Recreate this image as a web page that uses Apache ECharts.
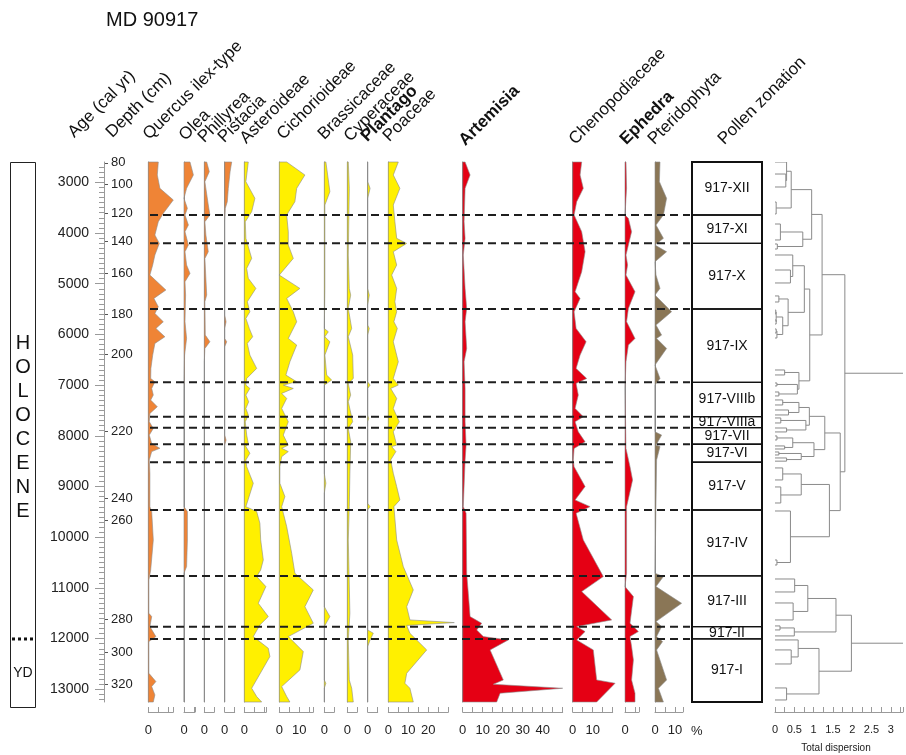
<!DOCTYPE html>
<html>
<head>
<meta charset="utf-8">
<title>MD 90917 pollen diagram</title>
<script src="https://cdn.jsdelivr.net/npm/echarts@6/dist/echarts.min.js"></script>
<style>
  html, body { margin: 0; padding: 0; background: #fff; }
  #chart { width: 906px; height: 755px; }
</style>
</head>
<body>
<div id="chart"></div>
<script>
// ---------------------------------------------------------------------------
// Core MD 90917 – pollen percentages against calibrated age (cal yr BP)
// ---------------------------------------------------------------------------
const AGE_MIN = 2600;
const AGE_MAX = 13250;

// age axis and the depth scale tied to it by the age model
const ageTicks = [3000, 4000, 5000, 6000, 7000, 8000, 9000, 10000, 11000, 12000, 13000];
const depthLabels = [80, 100, 120, 140, 160, 180, 200, 220, 240, 260, 280, 300, 320];
const depthAges = [2615, 3034, 3606, 4158, 4799, 5597, 6386, 7905, 9227, 9660, 11612, 12263, 12894];

// taxa: [age, percent]
const quercus = [[2600,5.0],[2856,4.5],[3120,5.8],[3349,12.5],[3613,7.5],[3778,5.0],[4040,3.3],[4205,5.5],[4435,3.3],[4632,2.2],[4830,0.8],[5125,8.8],[5290,2.8],[5455,5.0],[5586,3.3],[5751,7.5],[5882,3.8],[6047,8.3],[6178,3.3],[6408,2.2],[6671,1.3],[6869,1.2],[6934,3.3],[7066,1.7],[7197,2.5],[7296,1.2],[7427,4.5],[7559,0.8],[7723,0.5],[7855,2.5],[7986,0.5],[8151,1.7],[8246,5.8],[8312,1.7],[8476,0.5],[8739,0.8],[9397,0.8],[9495,1.7],[10054,2.5],[10645,1.2],[10843,0.3],[11500,0.3],[11566,1.7],[11763,0.8],[11960,3.8],[12059,0.3],[12683,0.3],[12847,3.8],[12946,1.7],[13110,3.3],[13250,2.5]];
const olea = [[2600,3.0],[2856,4.7],[3120,1.3],[3317,0],[3514,1.7],[3645,0.5],[3843,2.2],[3975,0.5],[4238,2.2],[4370,0.5],[4632,1.3],[4797,3.0],[4961,0.5],[5224,0.8],[5751,0.5],[6080,1.3],[6408,0.3],[7066,0],[9397,0],[9495,1.7],[10054,1.7],[10580,1.3],[10711,0],[13250,0]];
const phillyrea = [[2600,1.2],[2790,2.5],[2988,0.3],[3448,2.0],[3645,2.8],[3778,0.3],[4040,0.8],[4370,2.0],[4501,0.3],[5224,1.2],[5356,0.3],[6014,0.5],[6145,2.8],[6277,0.3],[6540,0],[13250,0]];
const pistacia = [[2600,3.5],[2790,2.7],[3120,1.8],[3383,1.3],[3514,0.3],[3778,0],[5620,0],[5751,0.7],[5882,0],[6080,0],[6145,1.0],[6244,0],[7986,0],[8085,0.7],[8184,0],[13250,0]];
const asteroideae = [[2600,2.0],[2988,0.8],[3317,5.3],[3580,3.7],[3778,0.5],[4106,0.8],[4501,3.7],[4698,1.2],[4895,2.0],[5093,5.8],[5356,1.5],[5553,2.8],[5685,0.8],[5882,2.5],[6047,4.2],[6178,1.5],[6408,2.8],[6671,6.2],[6869,1.2],[7000,0.8],[7066,2.8],[7197,0.8],[7329,2.2],[7460,0.8],[7592,2.0],[7723,0.5],[7986,1.2],[8150,2.0],[8213,0.8],[8345,2.8],[8476,0.8],[8608,1.2],[8936,4.5],[9397,0.8],[9495,6.2],[9725,7.8],[10054,8.2],[10448,9.5],[10645,8.2],[10777,6.2],[10974,10.8],[11303,7.0],[11566,12.0],[11730,7.8],[11960,4.5],[12190,12.0],[12354,12.8],[12979,3.7],[13143,6.2],[13250,8.7]];
const cichorioideae = [[2600,3.7],[2856,12.8],[3120,8.7],[3383,7.8],[3645,3.7],[3975,4.5],[4238,4.5],[4501,7.0],[4830,0],[5093,10.3],[5290,3.7],[5553,7.0],[5751,8.7],[6080,4.5],[6211,8.7],[6540,5.3],[6803,3.3],[6934,8.7],[7000,2.0],[7066,7.0],[7164,1.2],[7263,3.7],[7460,1.2],[7723,4.5],[7986,2.0],[8184,4.5],[8246,1.2],[8312,4.5],[8411,1.2],[8608,0.3],[8936,0.3],[9199,2.8],[9397,1.2],[9791,3.7],[10317,6.2],[10711,7.8],[11040,17.0],[11369,12.8],[11697,17.0],[11960,4.5],[12256,12.0],[12617,10.3],[12946,1.2],[13143,3.7],[13250,5.3]];
const brassicaceae = [[2600,0.8],[3185,2.8],[3448,0.3],[5093,0.3],[5882,0],[5948,2.0],[6047,0.3],[6145,2.8],[6408,0.3],[6803,1.2],[6901,3.7],[7000,0],[8739,0],[8936,0.8],[9134,0],[11369,0],[11566,2.8],[11763,0],[12815,0],[12880,0.8],[12979,0],[13250,0]];
const cyperaceae = [[2600,0.5],[3120,1.0],[4435,0.5],[5093,1.0],[5224,1.7],[5487,0.5],[5882,2.2],[6047,0.5],[6408,2.7],[6869,3.0],[6967,0.5],[7197,1.7],[7329,0.5],[7723,2.7],[7855,0.5],[8118,1.7],[8739,1.3],[9397,1.0],[10054,0.5],[11500,1.3],[12026,0.5],[12815,1.0],[12979,2.2],[13250,3.0]];
const plantago = [[2600,0],[2988,0],[3120,1.2],[3317,0],[5093,0],[5224,0.8],[5421,0],[5816,0],[5882,0.8],[6014,0],[6934,0],[7000,1.2],[7066,0],[7592,0],[7657,0.5],[7723,0],[9331,0],[9397,1.2],[9462,0],[11829,0],[11894,2.8],[12026,1.2],[12157,0],[13250,0]];
const poaceae = [[2600,5.0],[2856,2.5],[3120,5.8],[3448,2.5],[3778,3.3],[4106,4.2],[4205,9.2],[4370,2.5],[4632,4.2],[4830,1.7],[5093,4.2],[5356,3.3],[5553,4.2],[5751,2.8],[5882,4.5],[6145,2.5],[6540,5.0],[6869,2.5],[7000,5.0],[7066,1.2],[7263,4.2],[7460,2.5],[7723,5.5],[7921,2.5],[8184,4.2],[8213,1.7],[8312,3.8],[8476,1.2],[8739,2.5],[9002,4.2],[9265,5.8],[9397,2.8],[10054,4.2],[10580,7.5],[11040,12.5],[11369,9.2],[11631,10.8],[11684,33],[11740,9.2],[11894,10.8],[12223,19.2],[12683,9.2],[12880,8.3],[12979,10.8],[13250,12.5]];
const artemisia = [[2600,1.2],[2856,3.7],[3120,1.2],[3778,0.7],[4106,1.2],[4435,0.3],[5093,1.2],[5487,2.0],[5751,1.2],[6277,2.0],[6540,0.7],[7066,1.2],[7723,1.2],[8184,1.7],[8476,1.2],[9397,0.3],[9528,1.7],[10711,2.0],[11106,2.8],[11566,3.7],[11697,9.5],[11829,7.0],[11960,10.3],[12026,22.8],[12223,13.7],[12815,20.3],[12900,15.3],[12979,50],[13077,18.7],[13250,17]];
const chenopodiaceae = [[2600,4.5],[2856,3.7],[3120,5.3],[3383,2.0],[3645,0.7],[3975,4.5],[4370,6.2],[4764,4.5],[5159,1.2],[5290,3.7],[5553,0.7],[5882,1.7],[6145,6.7],[6408,3.7],[6671,1.7],[6869,7.0],[6967,1.7],[7197,2.8],[7460,1.2],[7625,5.3],[7723,1.2],[7921,2.8],[8118,6.2],[8250,0.7],[8476,0.3],[8608,0.7],[9002,6.2],[9265,1.2],[9397,8.7],[9528,1.7],[10054,5.3],[10777,15.3],[11073,4.5],[11631,19.5],[11763,2.0],[11861,6.2],[12026,2.0],[12223,10.3],[12815,12.0],[12880,21.2],[13250,12.0]];
const ephedra = [[2600,0.5],[3120,0.8],[3645,0],[3711,1.7],[3975,3.3],[4238,1.7],[4435,0.5],[4632,1.3],[4830,0.5],[5159,5.0],[5487,1.7],[5751,0.8],[5882,2.5],[6080,5.0],[6211,1.7],[6540,0.5],[7066,0],[8250,0.5],[8608,2.5],[8871,3.8],[9397,0.8],[10711,0.8],[10974,0],[11171,4.2],[11697,2.5],[11861,6.7],[11960,2.5],[12157,3.3],[12420,4.2],[12815,3.3],[13077,5.0],[13250,5.0]];
const pteridophyta = [[2600,2.5],[2988,2.2],[3317,5.8],[3645,4.2],[3843,0.5],[4106,4.2],[4238,0],[4370,5.8],[4567,0],[4830,0.5],[5093,2.5],[5224,0],[5553,8.3],[5816,0.5],[6014,3.3],[6080,0.8],[6277,5.8],[6605,0],[6869,2.5],[7000,0],[7921,0],[7986,3.3],[8184,0.5],[8213,2.5],[8476,0.8],[10711,0],[10777,4.2],[10974,0.5],[11303,13.3],[11664,0.5],[11763,3.3],[11960,0.8],[12059,3.8],[12223,0.8],[12815,5.8],[12979,1.7],[13250,4.2]];

// pollen zones (top of each zone, then base of the record)
const zoneNames = ['917-XII','917-XI','917-X','917-IX','917-VIIIb','917-VIIIa','917-VII','917-VI','917-V','917-IV','917-III','917-II','917-I'];
const zoneBounds = [2600, 3645, 4203, 5499, 6945, 7623, 7840, 8167, 8522, 9463, 10764, 11764, 12007, 13250];
const HOLOCENE_BASE_AGE = 12007;

// CONISS clustering: node = [total dispersion, childA, childB], leaf = sample age
const clusterA1a = [0.95, [0.42, [0.30, 2600, [0.28, 2837, 3093]], [0.03, 3389, 3625]], [0.72, [0.14, 3823, 4138], [0.06, 4217, 4316]]];
const clusterA1b = [0.90, [0.76, [0.46, 4434, [0.40, 4730, 4986]], [0.34, [0.10, 5242, 5361], [0.20, [0.03, [0.02, 5519, 5597], [0.03, 5716, 5795]], [0.05, [0.03, 5893, 5972], 6071]]]], [0.62, [0.25, 6702, 6800], [0.58, [0.05, 6958, 7017], [0.10, 7136, 7214]]]];
const clusterA2a = [1.29, [0.89, [0.62, [0.2, 7293, 7392], [0.35, 7491, 7589]], [0.8, [0.15, 7648, 7747], [0.3, 7846, 7924]]], [1.01, [0.46, [0.05, 8003, 8082], [0.25, 8200, 8260]], [0.68, [0.1, 8319, 8378], [0.3, 8437, 8500]]]];
const clusterA2b = [1.41, [0.68, [0.2, 8634, 8871], [0.15, 9009, 9325]], [0.40, 9483, [0.05, 10449, 10548]]];
const clusterB1 = [1.58, [0.85, [0.51, 10824, 11080], [0.47, 11297, 11632]], [0.5, [0.13, 11750, 11829], 11947]];
const clusterB2 = [1.14, [0.6, 12026, [0.42, 12223, 12500]], [0.3, 12973, 13210]];
const clusterTree = [3.6, [1.81, [1.22, clusterA1a, clusterA1b], [1.69, clusterA2a, clusterA2b]], [1.98, clusterB1, clusterB2]];
const dispersionTicks = [0, 0.5, 1, 1.5, 2, 2.5, 3];

// ---------------------------------------------------------------------------
// layout and styling
// ---------------------------------------------------------------------------
const FONT = "'Liberation Sans', Arial, Helvetica, sans-serif";
const PLOT_TOP = 162;
const PLOT_H = 540;
const PX_PER_PCT = 2;
const ORANGE = '#EF8436';
const YELLOW = '#FFF000';
const RED = '#E50014';
const BROWN = '#8A7656';
const OUTLINE = '#8c8c8c';
const AXIS_GREY = '#9a9a9a';

// the dashed line at the base of zone 917-VI stops short of the last two columns
const SHORT_BOUNDARY_AGE = 8522;
const SHORT_BOUNDARY_END_X = 613;

const panels = [
  { name: 'Quercus ilex-type', data: quercus, left: 148.3, max: 12.5, color: ORANGE, labels: [0] },
  { name: 'Olea', data: olea, left: 184, max: 5.5, color: ORANGE, labels: [0] },
  { name: 'Phillyrea', data: phillyrea, left: 204.3, max: 5, color: ORANGE, labels: [0] },
  { name: 'Pistacia', data: pistacia, left: 224.7, max: 5, color: ORANGE, labels: [0] },
  { name: 'Asteroideae', data: asteroideae, left: 244.3, max: 11, color: YELLOW, labels: [0] },
  { name: 'Cichorioideae', data: cichorioideae, left: 279.3, max: 17, color: YELLOW, labels: [0, 10] },
  { name: 'Brassicaceae', data: brassicaceae, left: 324.3, max: 5, color: YELLOW, labels: [0] },
  { name: 'Cyperaceae', data: cyperaceae, left: 347.3, max: 5, color: YELLOW, labels: [0] },
  { name: 'Plantago', data: plantago, left: 367.7, max: 5, color: YELLOW, labels: [0] },
  { name: 'Poaceae', data: poaceae, left: 388.3, max: 30, color: YELLOW, labels: [0, 10, 20] },
  { name: 'Artemisia', data: artemisia, left: 462.7, max: 50, color: RED, labels: [0, 10, 20, 30, 40] },
  { name: 'Chenopodiaceae', data: chenopodiaceae, left: 572.7, max: 20, color: RED, labels: [0, 10] },
  { name: 'Ephedra', data: ephedra, left: 625, max: 7, color: RED, labels: [0] },
  { name: 'Pteridophyta', data: pteridophyta, left: 655, max: 14, color: BROWN, labels: [0, 10] }
];

// rotated column headings: text, anchor x, anchor y, bold
const headings = [
  ['Age (cal yr)', 77, 141, false],
  ['Depth (cm)', 115, 141, false],
  ['Quercus ilex-type', 152, 143, false],
  ['Olea', 188, 144, false],
  ['Phillyrea', 207, 146, false],
  ['Pistacia', 227, 146, false],
  ['Asteroideae', 249, 147, false],
  ['Cichorioideae', 286, 143, false],
  ['Brassicaceae', 327, 143, false],
  ['Cyperaceae', 353, 145, false],
  ['Plantago', 370, 145, true],
  ['Poaceae', 392, 145, false],
  ['Artemisia', 468, 149, true],
  ['Chenopodiaceae', 578, 148, false],
  ['Ephedra', 629, 148, true],
  ['Pteridophyta', 657, 148, false],
  ['Pollen zonation', 727, 148, false]
];

// ---------------------------------------------------------------------------
const chart = echarts.init(document.getElementById('chart'));
const grid = [], xAxis = [], yAxis = [], series = [];

function hiddenAxis(extra) {
  return Object.assign({
    type: 'value', show: false,
    axisLine: { show: false }, axisTick: { show: false },
    axisLabel: { show: false }, splitLine: { show: false }
  }, extra);
}
function ageAxis(gridIndex, extra) {
  return Object.assign(hiddenAxis({ gridIndex, min: AGE_MIN, max: AGE_MAX, inverse: true }), extra || {});
}

// filled silhouette of one taxon curve, closed back onto the zero line
function areaRenderer(points, color) {
  return function (params, api) {
    if (params.dataIndex !== 0) return null;
    const poly = [api.coord([0, points[0][0]])];
    points.forEach(function (p) { poly.push(api.coord([p[1], p[0]])); });
    poly.push(api.coord([0, points[points.length - 1][0]]));
    return {
      type: 'polygon',
      shape: { points: poly },
      style: { fill: color, stroke: OUTLINE, lineWidth: 0.6 }
    };
  };
}

panels.forEach(function (p) {
  const gi = grid.length;
  grid.push({ left: p.left, top: PLOT_TOP, width: p.max * PX_PER_PCT, height: PLOT_H });
  xAxis.push({
    gridIndex: gi, type: 'value', min: 0, max: p.max, interval: 5,
    position: 'bottom', offset: 10,
    axisLine: { show: true, onZero: false, lineStyle: { color: AXIS_GREY, width: 1 } },
    axisTick: { show: true, inside: true, length: 5, lineStyle: { color: AXIS_GREY } },
    axisLabel: {
      show: true, margin: 12, fontSize: 13, color: '#222', fontFamily: FONT,
      formatter: function (v) { return p.labels.indexOf(v) >= 0 ? String(v) : ''; }
    },
    splitLine: { show: false }
  });
  yAxis.push({
    gridIndex: gi, type: 'value', min: AGE_MIN, max: AGE_MAX, inverse: true, position: 'left',
    axisLine: { show: true, onZero: false, lineStyle: { color: OUTLINE, width: 1 } },
    axisTick: { show: false }, axisLabel: { show: false }, splitLine: { show: false }
  });
  series.push({
    type: 'custom', name: p.name, xAxisIndex: gi, yAxisIndex: gi,
    data: p.data.map(function (d) { return [d[1], d[0]]; }),
    renderItem: areaRenderer(p.data, p.color), silent: true, z: 2
  });
});

// age ruler with the depth scale beside it
const ageGrid = grid.length;
grid.push({ left: 104, top: PLOT_TOP, width: 1, height: PLOT_H });
xAxis.push(hiddenAxis({ gridIndex: ageGrid, min: 0, max: 1 }));
const ageAxisIndex = yAxis.length;
yAxis.push({
  gridIndex: ageGrid, type: 'value', min: AGE_MIN, max: AGE_MAX, inverse: true, position: 'left',
  axisLine: { show: true, onZero: false, lineStyle: { color: AXIS_GREY, width: 1 } },
  axisTick: { show: true, length: 9, customValues: ageTicks, lineStyle: { color: AXIS_GREY } },
  axisLabel: {
    show: true, margin: 15, fontSize: 14, color: '#222', fontFamily: FONT, customValues: ageTicks,
    formatter: function (v) { return String(v); }
  },
  splitLine: { show: false }
});
const minorAges = [];
for (let a = 2700; a <= 13200; a += 100) if (ageTicks.indexOf(a) < 0) minorAges.push(a);
yAxis.push({
  gridIndex: ageGrid, type: 'value', min: AGE_MIN, max: AGE_MAX, inverse: true, position: 'left',
  axisLine: { show: false },
  axisTick: { show: true, length: 5, customValues: minorAges, lineStyle: { color: AXIS_GREY } },
  axisLabel: { show: false }, splitLine: { show: false }
});
yAxis.push({
  gridIndex: ageGrid, type: 'value', min: AGE_MIN, max: AGE_MAX, inverse: true, position: 'right',
  axisLine: { show: false },
  axisTick: { show: true, length: 3, customValues: depthAges, lineStyle: { color: '#555' } },
  axisLabel: {
    show: true, margin: 6, fontSize: 13, color: '#222', fontFamily: FONT, customValues: depthAges,
    formatter: function (v) {
      const i = depthAges.indexOf(v);
      return i >= 0 ? String(depthLabels[i]) : '';
    }
  },
  splitLine: { show: false }
});
series.push({ type: 'line', xAxisIndex: ageGrid, yAxisIndex: ageAxisIndex, data: [], silent: true });

// zone boundaries drawn as dashed lines across the taxa
const DASH_LEFT = 150, DASH_WIDTH = 540;
const dashGrid = grid.length;
grid.push({ left: DASH_LEFT, top: PLOT_TOP, width: DASH_WIDTH, height: PLOT_H });
xAxis.push(hiddenAxis({ gridIndex: dashGrid, min: 0, max: 1 }));
yAxis.push(ageAxis(dashGrid));
series.push({
  type: 'custom', xAxisIndex: dashGrid, yAxisIndex: yAxis.length - 1, silent: true, z: 10,
  data: zoneBounds.slice(1, -1).map(function (a) { return [0, a]; }),
  renderItem: function (params, api) {
    const a = api.value(1);
    const end = a === SHORT_BOUNDARY_AGE ? (SHORT_BOUNDARY_END_X - DASH_LEFT) / DASH_WIDTH : 1;
    const p1 = api.coord([0, a]), p2 = api.coord([end, a]);
    return {
      type: 'line', shape: { x1: p1[0], y1: p1[1], x2: p2[0], y2: p2[1] },
      style: { stroke: '#1e1e1e', lineWidth: 2, lineDash: [8, 5] }
    };
  }
});

// pollen zonation column
const zoneGrid = grid.length;
grid.push({ left: 692, top: PLOT_TOP, width: 70, height: PLOT_H });
xAxis.push(hiddenAxis({ gridIndex: zoneGrid, min: 0, max: 1 }));
yAxis.push(ageAxis(zoneGrid));
series.push({
  type: 'custom', xAxisIndex: zoneGrid, yAxisIndex: yAxis.length - 1, silent: true, z: 5,
  data: zoneNames.map(function (n, i) { return [zoneBounds[i], zoneBounds[i + 1]]; }),
  renderItem: function (params, api) {
    const t = api.coord([0, api.value(0)]);
    const b = api.coord([1, api.value(1)]);
    const children = [
      { type: 'rect', shape: { x: t[0], y: t[1], width: b[0] - t[0], height: b[1] - t[1] },
        style: { fill: 'none', stroke: '#111', lineWidth: 1.3 } },
      { type: 'text', style: {
          text: zoneNames[params.dataIndex], x: (t[0] + b[0]) / 2, y: (t[1] + b[1]) / 2,
          align: 'center', verticalAlign: 'middle', textAlign: 'center', textVerticalAlign: 'middle',
          font: '14px ' + FONT, fill: '#111' } }
    ];
    if (params.dataIndex === 0) {
      const top = api.coord([0, AGE_MIN]), bot = api.coord([1, AGE_MAX]);
      children.push({ type: 'rect', shape: { x: top[0], y: top[1], width: bot[0] - top[0], height: bot[1] - top[1] },
        style: { fill: 'none', stroke: '#111', lineWidth: 2 } });
    }
    return { type: 'group', children: children };
  }
});

// CONISS dendrogram
const dendroSegments = [];
function layoutNode(node) {
  if (typeof node === 'number') return { pos: node, h: 0 };
  const h = node[0], a = layoutNode(node[1]), b = layoutNode(node[2]);
  dendroSegments.push([a.h, a.pos, h, a.pos]);
  dendroSegments.push([b.h, b.pos, h, b.pos]);
  dendroSegments.push([h, a.pos, h, b.pos]);
  return { pos: (a.pos + b.pos) / 2, h: h };
}
layoutNode(clusterTree);
const DENDRO_PX_PER_UNIT = 39.5;
const dendroGrid = grid.length;
grid.push({ left: 775, top: PLOT_TOP, width: 131, height: PLOT_H });
xAxis.push({
  gridIndex: dendroGrid, type: 'value', min: 0, max: 131 / DENDRO_PX_PER_UNIT, interval: 0.25,
  position: 'bottom', offset: 10,
  axisLine: { show: true, onZero: false, lineStyle: { color: AXIS_GREY } },
  axisTick: { show: true, inside: true, length: 5, lineStyle: { color: AXIS_GREY } },
  axisLabel: {
    show: true, margin: 12, fontSize: 11, color: '#222', fontFamily: FONT,
    formatter: function (v) {
      return dispersionTicks.some(function (t) { return Math.abs(t - v) < 1e-6; }) ? String(v) : '';
    }
  },
  splitLine: { show: false }
});
yAxis.push(ageAxis(dendroGrid));
series.push({
  type: 'custom', xAxisIndex: dendroGrid, yAxisIndex: yAxis.length - 1, silent: true, clip: true, z: 3,
  data: dendroSegments,
  encode: { x: [0, 2], y: [1, 3] },
  renderItem: function (params, api) {
    const p1 = api.coord([api.value(0), api.value(1)]);
    const p2 = api.coord([api.value(2), api.value(3)]);
    return {
      type: 'line', shape: { x1: p1[0], y1: p1[1], x2: p2[0], y2: p2[1] },
      style: { stroke: '#8a8a8a', lineWidth: 1 }
    };
  }
});

chart.setOption({
  animation: false,
  backgroundColor: '#fff',
  grid: grid, xAxis: xAxis, yAxis: yAxis, series: series
});

// titles, headings and the chronostratigraphic column
const holoceneY = chart.convertToPixel({ yAxisIndex: ageAxisIndex }, HOLOCENE_BASE_AGE);
const graphics = [
  { type: 'text', x: 106, y: 10, style: { text: 'MD 90917', font: '20px ' + FONT, fill: '#111', align: 'left', verticalAlign: 'top', textAlign: 'left', textVerticalAlign: 'top' } },
  { type: 'rect', shape: { x: 10.5, y: 162.5, width: 25, height: 545 }, style: { fill: 'none', stroke: '#222', lineWidth: 1 } },
  { type: 'text', x: 23, y: 331, style: { text: 'H\nO\nL\nO\nC\nE\nN\nE', font: '20px ' + FONT, lineHeight: 24, fill: '#111', align: 'center', verticalAlign: 'top', textAlign: 'center', textVerticalAlign: 'top' } },
  { type: 'line', shape: { x1: 12, y1: holoceneY, x2: 35, y2: holoceneY }, style: { stroke: '#111', lineWidth: 3, lineDash: [3, 3] } },
  { type: 'text', x: 23, y: 673, style: { text: 'YD', font: '14px ' + FONT, fill: '#111', align: 'center', verticalAlign: 'middle', textAlign: 'center', textVerticalAlign: 'middle' } },
  { type: 'text', x: 691, y: 731, style: { text: '%', font: '13px ' + FONT, fill: '#222', align: 'left', verticalAlign: 'middle', textAlign: 'left', textVerticalAlign: 'middle' } },
  { type: 'text', x: 836, y: 748, style: { text: 'Total dispersion', font: '10px ' + FONT, fill: '#222', align: 'center', verticalAlign: 'middle', textAlign: 'center', textVerticalAlign: 'middle' } }
];
headings.forEach(function (h) {
  graphics.push({
    type: 'text', x: h[1], y: h[2], rotation: Math.PI / 4,
    style: { text: h[0], font: (h[3] ? 'bold ' : '') + '17px ' + FONT, fill: '#111',
      align: 'left', verticalAlign: 'bottom', textAlign: 'left', textVerticalAlign: 'bottom' }
  });
});
chart.setOption({ graphic: graphics });
</script>
</body>
</html>
